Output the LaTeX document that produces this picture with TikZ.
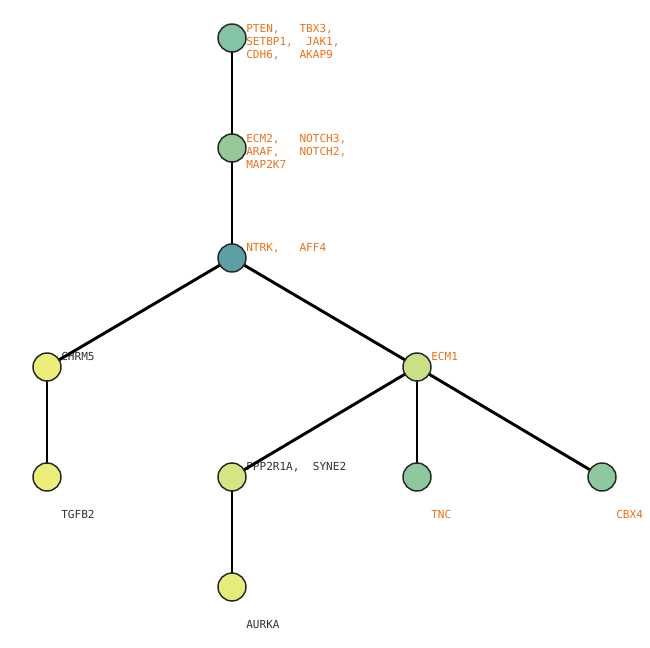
\documentclass[tikz,border=0pt]{standalone}
\usepackage{fontspec}
\setmonofont{DejaVu Sans Mono}
\begin{document}
\begin{tikzpicture}[x=0.75pt,y=-0.75pt,
  gnode/.style={circle,draw=black!85,line width=1.1pt,minimum size=28*0.75pt,inner sep=0pt},
  edge/.style={line width=2.2pt,black},
  lab/.style={font=\ttfamily\fontsize{8.3pt}{10.1pt}\selectfont,anchor=base west,inner sep=0pt,align=left},
  orange lab/.style={lab,text=labor},
  gray lab/.style={lab,text=labgray}]
\definecolor{labor}{HTML}{E8731A}
\definecolor{labgray}{HTML}{333333}
\definecolor{cA}{HTML}{85C3A6}
\definecolor{cB}{HTML}{96C898}
\definecolor{cC}{HTML}{5CA0A6}
\definecolor{cD}{HTML}{EBEE78}
\definecolor{cE}{HTML}{C9E084}
\definecolor{cF}{HTML}{D6E681}
\definecolor{cG}{HTML}{8FC79E}
\definecolor{cH}{HTML}{E5EC7C}
\useasboundingbox[fill=white] (0,0) rectangle (650,648);
% labels (base = baseline of last line)
\node[orange lab] (lA) at (246,59) {PTEN,~~~TBX3,\\SETBP1,~~JAK1,\\CDH6,~~~AKAP9};
\node[orange lab] (lB) at (246,169) {ECM2,~~~NOTCH3,\\ARAF,~~~NOTCH2,\\MAP2K7};
\node[orange lab] (lC) at (246,252) {NTRK,~~~AFF4};
\node[gray lab] (lD) at (61,361) {CHRM5};
\node[orange lab] (lE) at (431,361) {ECM1};
\node[gray lab] (lF) at (61,518) {TGFB2};
\node[gray lab] (lG) at (246,471) {PPP2R1A,~~SYNE2};
\node[orange lab] (lH) at (431,518) {TNC};
\node[orange lab] (lI) at (616,518) {CBX4};
\node[gray lab] (lJ) at (246,628) {AURKA};
% node positions
\coordinate (pA) at (232,38);
\coordinate (pB) at (232,148);
\coordinate (pC) at (232,258);
\coordinate (pD) at (47,367);
\coordinate (pE) at (417,367);
\coordinate (pF) at (47,477);
\coordinate (pG) at (232,477);
\coordinate (pH) at (417,477);
\coordinate (pI) at (602,477);
\coordinate (pJ) at (232,587);
% edges
\draw[edge] (pA) -- (pB);
\draw[edge] (pB) -- (pC);
\draw[edge] (pC) -- (pD);
\draw[edge] (pC) -- (pE);
\draw[edge] (pD) -- (pF);
\draw[edge] (pE) -- (pG);
\draw[edge] (pE) -- (pH);
\draw[edge] (pE) -- (pI);
\draw[edge] (pG) -- (pJ);
% nodes
\node[gnode,fill=cA] (nA) at (pA) {};
\node[gnode,fill=cB] (nB) at (pB) {};
\node[gnode,fill=cC] (nC) at (pC) {};
\node[gnode,fill=cD] (nD) at (pD) {};
\node[gnode,fill=cE] (nE) at (pE) {};
\node[gnode,fill=cD] (nF) at (pF) {};
\node[gnode,fill=cF] (nG) at (pG) {};
\node[gnode,fill=cG] (nH) at (pH) {};
\node[gnode,fill=cG] (nI) at (pI) {};
\node[gnode,fill=cH] (nJ) at (pJ) {};
\end{tikzpicture}
\end{document}
